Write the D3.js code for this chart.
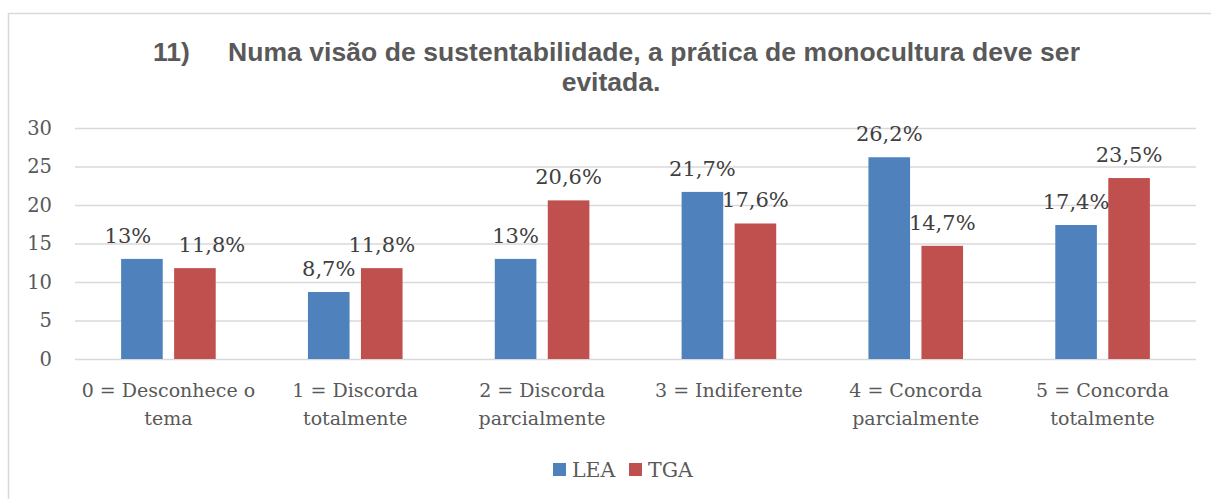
<!DOCTYPE html>
<html>
<head>
<meta charset="utf-8">
<script src="https://cdn.jsdelivr.net/npm/d3@7"></script>
<style>
  body { margin: 0; background: #fff; }
</style>
</head>
<body>
<div id="chart"></div>
<script>
// chart data
var categories = [
  ["0 = Desconhece o", "tema"],
  ["1 = Discorda", "totalmente"],
  ["2 = Discorda", "parcialmente"],
  ["3 = Indiferente"],
  ["4 = Concorda", "parcialmente"],
  ["5 = Concorda", "totalmente"]
];
var seriesNames = ["LEA", "TGA"];
var lea = [13, 8.7, 13, 21.7, 26.2, 17.4];
var tga = [11.8, 11.8, 20.6, 17.6, 14.7, 23.5];
var leaLabels = ["13%", "8,7%", "13%", "21,7%", "26,2%", "17,4%"];
var tgaLabels = ["11,8%", "11,8%", "20,6%", "17,6%", "14,7%", "23,5%"];
var yTicks = [0, 5, 10, 15, 20, 25, 30];
var colors = ["#4F81BD", "#C0504D"];

var W = 1211, H = 499;
var margin = { top: 128, right: 15, bottom: 140, left: 75 },
  width = 1196 - margin.left,
  height = 359 - margin.top;

var svg = d3.select("#chart")
  .append("svg")
  .attr("width", W)
  .attr("height", H);

// outer border
svg.append("rect")
  .attr("x", 8.5).attr("y", 13.5)
  .attr("width", W + 10).attr("height", H + 10)
  .attr("fill", "none")
  .attr("stroke", "#d9d9d9")
  .attr("stroke-width", 1.5);

// title
var title = svg.append("text")
  .attr("font-family", "Liberation Sans, Arial, sans-serif")
  .attr("font-weight", "bold")
  .attr("font-size", 26.5)
  .attr("fill", "#595959");
title.append("tspan").attr("x", 153).attr("y", 61).text("11)");
title.append("tspan").attr("x", 228).attr("y", 61)
  .attr("textLength", 852).attr("lengthAdjust", "spacing")
  .text("Numa visão de sustentabilidade, a prática de monocultura deve ser");
title.append("tspan").attr("x", 611).attr("y", 91).attr("text-anchor", "middle").text("evitada.");

var g = svg.append("g")
  .attr("transform", "translate(" + margin.left + "," + margin.top + ")");

var x = d3.scaleBand()
  .domain(d3.range(categories.length))
  .range([0, width]);

var xInner = d3.scaleBand()
  .domain(seriesNames)
  .range([x.bandwidth() / 2 - 47.3, x.bandwidth() / 2 + 47.3])
  .paddingInner(0.215);

var y = d3.scaleLinear()
  .domain([0, 30])
  .range([height, 0]);

// gridlines
var yAxis = g.append("g")
  .call(d3.axisLeft(y).tickValues(yTicks).tickSize(-width).tickPadding(23));
yAxis.select(".domain").remove();
yAxis.selectAll(".tick line")
  .attr("stroke", "#d9d9d9")
  .attr("stroke-width", 1.5);
yAxis.selectAll(".tick text")
  .attr("font-family", "DejaVu Serif, serif")
  .attr("font-size", 19.5)
  .attr("fill", "#595959");

// bars
var groups = g.selectAll(".cat")
  .data(categories.map(function (c, i) { return { i: i, vals: [lea[i], tga[i]], labs: [leaLabels[i], tgaLabels[i]] }; }))
  .enter().append("g")
  .attr("class", "cat")
  .attr("transform", function (d) { return "translate(" + x(d.i) + ",0)"; });

groups.selectAll("rect")
  .data(function (d) { return seriesNames.map(function (s, k) { return { s: s, k: k, v: d.vals[k], lab: d.labs[k] }; }); })
  .enter().append("rect")
  .attr("x", function (d) { return xInner(d.s); })
  .attr("width", xInner.bandwidth())
  .attr("y", function (d) { return y(d.v); })
  .attr("height", function (d) { return height - y(d.v); })
  .attr("fill", function (d) { return colors[d.k]; });

// the first pair of labels was pulled apart in the original so they don't collide
var firstPairNudge = [-14, 17];

groups.selectAll(".lab")
  .data(function (d) { return seriesNames.map(function (s, k) { return { s: s, k: k, i: d.i, v: d.vals[k], lab: d.labs[k] }; }); })
  .enter().append("text")
  .attr("class", "lab")
  .attr("x", function (d) {
    var nudge = d.i === 0 ? firstPairNudge[d.k] : 0;
    return xInner(d.s) + xInner.bandwidth() / 2 + nudge;
  })
  .attr("y", function (d) { return y(d.v) - 16; })
  .attr("text-anchor", "middle")
  .attr("font-family", "DejaVu Serif, serif")
  .attr("font-size", 21)
  .attr("fill", "#404040")
  .text(function (d) { return d.lab; });

// x labels
var xl = g.selectAll(".xl")
  .data(categories)
  .enter().append("text")
  .attr("class", "xl")
  .attr("text-anchor", "middle")
  .attr("font-family", "DejaVu Serif, serif")
  .attr("font-size", 19)
  .attr("fill", "#595959");
xl.selectAll("tspan")
  .data(function (d, i) { return d.map(function (t) { return { t: t, i: i }; }); })
  .enter().append("tspan")
  .attr("x", function (d) { return x(d.i) + x.bandwidth() / 2; })
  .attr("y", function (d, j) { return height + 38 + j * 28; })
  .text(function (d) { return d.t; });

// legend
var legend = svg.append("g").attr("transform", "translate(553,463)");
var li = legend.selectAll("g")
  .data(seriesNames)
  .enter().append("g")
  .attr("transform", function (d, i) { return "translate(" + (i * 76) + ",0)"; });
li.append("rect")
  .attr("width", 13).attr("height", 13)
  .attr("fill", function (d, i) { return colors[i]; });
li.append("text")
  .attr("x", 19).attr("y", 14)
  .attr("font-family", "DejaVu Serif, serif")
  .attr("font-size", 20.5)
  .attr("fill", "#595959")
  .text(function (d) { return d; });
</script>
</body>
</html>
